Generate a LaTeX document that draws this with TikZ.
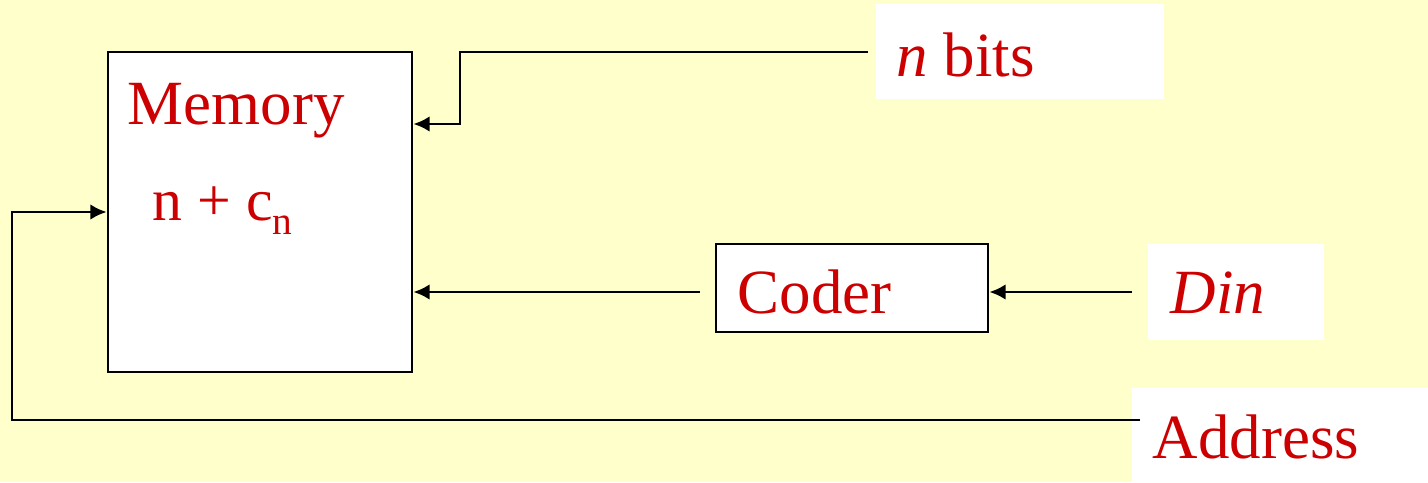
\documentclass[tikz,border=0pt]{standalone}
\usepackage{fontspec}
\setmainfont{Liberation Serif}
\usetikzlibrary{arrows.meta}
\definecolor{bgyellow}{HTML}{FFFFCC}
\definecolor{txtred}{HTML}{CC0000}
\tikzset{
  box/.style={draw=black, line width=0.75pt, fill=white, inner sep=0pt},
  lab/.style={fill=white, draw=none, inner sep=0pt},
  txt/.style={text=txtred, font=\fontsize{17.9}{20}\selectfont, anchor=base west, inner sep=0pt},
  arr/.style={draw=black, line width=0.7pt, -{Latex[length=4.6pt,width=4.4pt]}},
  ln/.style={draw=black, line width=0.7pt}
}
\begin{document}
\begin{tikzpicture}[x=0.01cm,y=-0.01cm]
\fill[bgyellow] (0,0) rectangle (1428,482);
\useasboundingbox (0,0) rectangle (1428,482);
% boxes
\node[box, minimum width=3.04cm, minimum height=3.2cm] (mem) at (260,212) {};
\node[box, minimum width=2.72cm, minimum height=0.88cm] (coder) at (852,288) {};
\node[lab, minimum width=2.88cm, minimum height=0.95cm] (nbits) at (1020,51.5) {};
\node[lab, minimum width=1.76cm, minimum height=0.96cm] (din) at (1236,292) {};
\node[lab, minimum width=2.96cm, minimum height=0.94cm] (addr) at (1280,435) {};
% texts
\node[txt] (memt) at (127,124) {Memory};
\node[txt, font=\fontsize{17}{19}\selectfont] (memn) at (152,220) {n + c\raisebox{-4.2pt}{\fontsize{11.2}{12}\selectfont n}};
\node[txt] (codert) at (737,313) {Coder};
\node[txt] (nbitst) at (896,77) {\textit{n} bits};
\node[txt] (dint) at (1170,313) {\textit{Din}};
\node[txt] (addrt) at (1152,458) {Address};
% connectors
\coordinate (nb1) at (868,52);
\coordinate (cd1) at (700,292);
\coordinate (dn1) at (1132,292);
\coordinate (ad1) at (1140,420);
\draw[arr] (nb1) -- (460,52) -- (460,124) -- (mem.east |- 0,124);
\draw[arr] (cd1) -- (mem.east |- cd1);
\draw[arr] (dn1) -- (coder.east |- dn1);
\draw[arr] (ad1) -| (12,212) -- (mem.west |- 0,212);
\end{tikzpicture}
\end{document}
